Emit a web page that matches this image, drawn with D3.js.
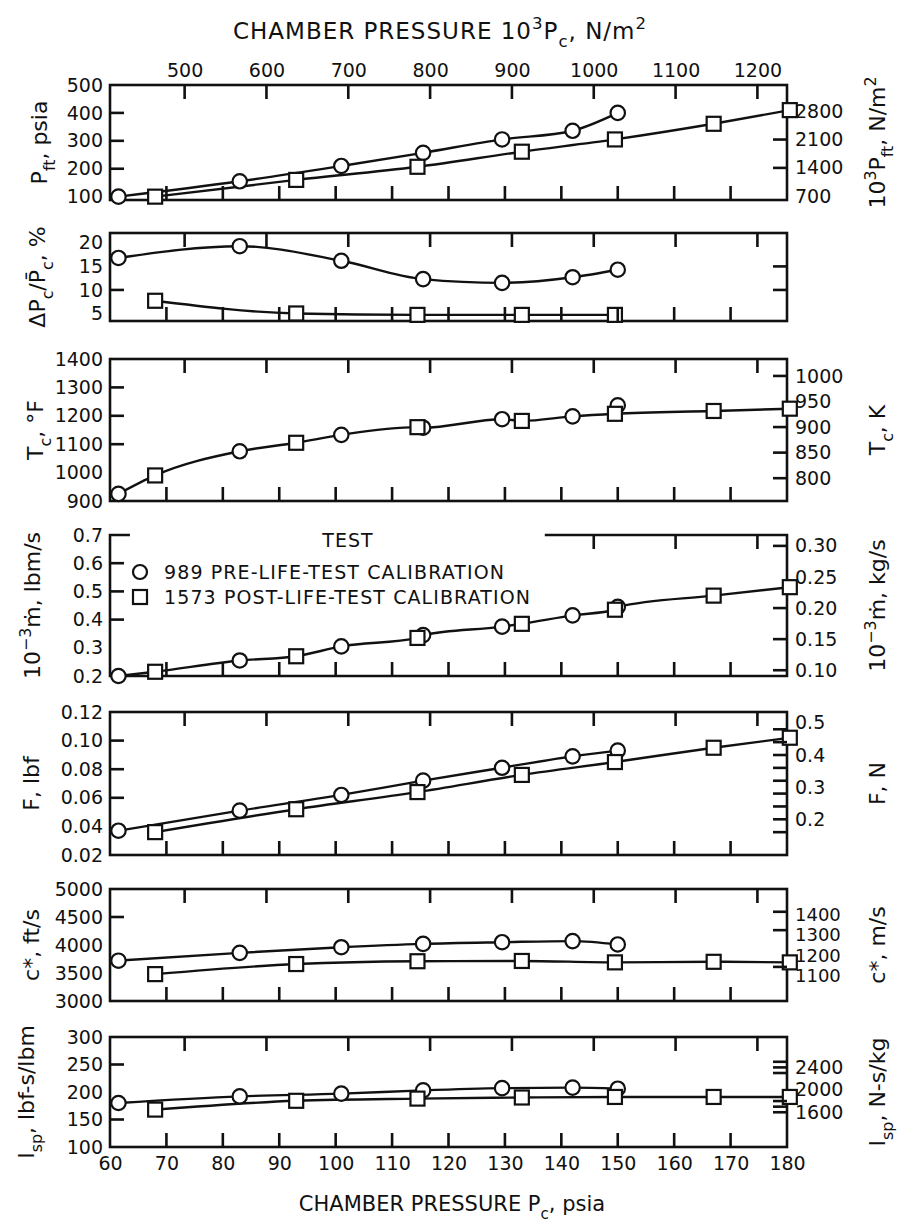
<!DOCTYPE html>
<html>
<head>
<meta charset="utf-8">
<script src="https://cdn.jsdelivr.net/npm/d3@7"></script>
<style>
  html, body { margin: 0; padding: 0; background: #fff; }
  svg { display: block; }
  text { font-family: "DejaVu Sans", sans-serif; fill: #111; }
</style>
</head>
<body>
<svg id="chart" width="902" height="1227"></svg>
<script>
// ---------------- DATA ----------------
const circlePc = [61.5, 83, 101, 115.5, 129.5, 142, 150];     // test 989 pre-life-test
const squarePc = [68, 93, 114.5, 133, 149.5, 167, 180.5];     // test 1573 post-life-test

const pftCircle = [100, 155, 210, 257, 305, 336, 400];
const pftSquare = [100, 160, 207, 261, 305, 361, 410];
const dpCircle = [16.8, 19.3, 16.2, 12.3, 11.5, 12.7, 14.3];
const dpSquarePc = [68, 93, 114.5, 133, 149.5];
const dpSquare = [7.7, 5.0, 4.7, 4.7, 4.7];
const tcCircle = [925, 1075, 1133, 1158, 1188, 1198, 1237];
const tcSquare = [990, 1105, 1160, 1182, 1207, 1217, 1225];
const mdCircle = [0.20, 0.255, 0.305, 0.345, 0.375, 0.415, 0.445];
const mdSquare = [0.215, 0.27, 0.335, 0.385, 0.435, 0.485, 0.515];
const fCircle = [0.037, 0.051, 0.062, 0.072, 0.081, 0.089, 0.093];
const fSquare = [0.036, 0.052, 0.064, 0.076, 0.085, 0.095, 0.102];
const cCircle = [3720, 3860, 3960, 4020, 4050, 4070, 4010];
const cSquare = [3480, 3660, 3710, 3715, 3690, 3700, 3690];
const ispCircle = [180, 192, 197, 203, 207, 208, 206];
const ispSquare = [168, 184, 188, 190, 191, 191, 191];

const bottomTicks = [60, 70, 80, 90, 100, 110, 120, 130, 140, 150, 160, 170, 180];
const topTicks = [500, 600, 700, 800, 900, 1000, 1100, 1200];
const pftTicks = [100, 200, 300, 400, 500];
const pftRightTicks = [700, 1400, 2100, 2800];
const dpTicks = [5, 10, 15, 20];
const tcTicks = [900, 1000, 1100, 1200, 1300, 1400];
const tcRightTicks = [800, 850, 900, 950, 1000];
const mdTicks = [0.2, 0.3, 0.4, 0.5, 0.6, 0.7];
const mdRightTicks = [0.10, 0.15, 0.20, 0.25, 0.30];
const fTicks = [0.02, 0.04, 0.06, 0.08, 0.10, 0.12];
const fRightTicks = [0.2, 0.3, 0.4, 0.5];
const cTicks = [3000, 3500, 4000, 4500, 5000];
const cRightTicks = [1100, 1200, 1300, 1400];
const ispTicks = [100, 150, 200, 250, 300];
const ispRightTicks = [1600, 2000, 2400];

const legendTitle = "TEST";
const legendItems = ["989 PRE-LIFE-TEST CALIBRATION", "1573 POST-LIFE-TEST CALIBRATION"];

// ---------------- LAYOUT ----------------
const svg = d3.select("#chart");
const FS = 19, TFS = 22;
const xL = 110, xR = 787;
const x = d3.scaleLinear().domain([60, 180]).range([xL, xR]);
const PSI_KPA = 6.89476;
const TOP_SHIFT = 4;   // drafting offset of the upper (N/m^2) scale
const xTop = d3.scaleLinear().domain([60 * PSI_KPA, 180 * PSI_KPA]).range([xL + TOP_SHIFT, xR + TOP_SHIFT]);
const TICK = 14, TW = 2.6;
const INK = "#111";

function rich(sel, parts, size) {
  const t = sel.append("text").attr("font-size", size);
  let cur = 0;
  parts.forEach(p => {
    const shift = p.sub ? size * 0.36 : p.sup ? -size * 0.42 : 0;
    const ts = t.append("tspan").text(p.t).attr("dy", shift - cur);
    if (p.sub || p.sup) ts.attr("font-size", size * 0.72);
    cur = shift;
  });
  return t;
}

const tickRects = [];
function vMarks(scale, vals, y0, dir) {
  vals.forEach(d => tickRects.push({ x: scale(d) - TW / 2, y: dir > 0 ? y0 : y0 - TICK, w: TW, h: TICK }));
}
function hMarks(scale, vals, x0, dir) {
  vals.forEach(d => tickRects.push({ x: dir > 0 ? x0 : x0 - TICK, y: scale(d) - TW / 2, w: TICK, h: TW }));
}
function styleLabels(a, size) {
  a.select(".domain").remove();
  a.selectAll(".tick line").remove();
  a.selectAll("text").attr("font-size", size).attr("font-family", "DejaVu Sans").attr("fill", INK);
}

const panels = [
  { top: 85, bottom: 200, domain: [88, 500], ticks: pftTicks, marks: [200, 300, 400], fmt: d3.format("d"),
    conv: v => v * PSI_KPA, rTicks: pftRightTicks, rMarks: [1400, 2100], rFmt: d3.format("d"),
    lines: [[circlePc, pftCircle], [squarePc, pftSquare]],
    circles: [circlePc, pftCircle], squares: [squarePc, pftSquare], lx: 47,
    lTitle: [{t:"P"},{t:"ft",sub:true},{t:", psia"}],
    rTitle: [{t:"10"},{t:"3",sup:true},{t:"P"},{t:"ft",sub:true},{t:", N/m"},{t:"2",sup:true}] },
  { top: 233, bottom: 321, domain: [3.4, 22.1], ticks: dpTicks, marks: [10], fmt: d3.format("d"),
    conv: null, rTicks: [], rMarks: [10, 15],
    lines: [[circlePc, dpCircle], [dpSquarePc, dpSquare]],
    circles: [circlePc, dpCircle], squares: [dpSquarePc, dpSquare], lx: 45,
    lTitle: [{t:"ΔP"},{t:"c",sub:true},{t:"/P\u0304"},{t:"c",sub:true},{t:", %"}], rTitle: null },
  { top: 359, bottom: 501, domain: [900, 1400], ticks: tcTicks, marks: [1100, 1200, 1300], fmt: d3.format("d"),
    conv: v => (v + 459.67) / 1.8, rTicks: tcRightTicks, rMarks: [800, 850, 900, 1000], rFmt: d3.format("d"),
    merged: { pcs: [circlePc, squarePc], vals: [tcCircle, tcSquare], skip: [[0, 6]] },
    circles: [circlePc, tcCircle], squares: [squarePc, tcSquare], lx: 43,
    lTitle: [{t:"T"},{t:"c",sub:true},{t:", °F"}], rTitle: [{t:"T"},{t:"c",sub:true},{t:", K"}] },
  { top: 535, bottom: 676, domain: [0.2, 0.7], ticks: mdTicks, marks: [0.4, 0.5, 0.6], fmt: d3.format(".1f"),
    conv: v => v * 0.453592, rTicks: mdRightTicks, rMarks: [0.10, 0.15, 0.20, 0.30], rFmt: d3.format(".2f"),
    merged: { pcs: [circlePc, squarePc], vals: [mdCircle, mdSquare], skip: [] },
    circles: [circlePc, mdCircle], squares: [squarePc, mdSquare], brokenTop: [63.3, 137.3], lx: 40,
    lTitle: [{t:"10"},{t:"−3",sup:true},{t:"ṁ, lbm/s"}], rTitle: [{t:"10"},{t:"−3",sup:true},{t:"ṁ, kg/s"}] },
  { top: 712, bottom: 855, domain: [0.02, 0.12], ticks: fTicks, marks: [0.06, 0.08, 0.10], fmt: d3.format(".2f"),
    conv: v => v * 4.44822, rTicks: fRightTicks, rMarks: [0.16, 0.2, 0.24, 0.28, 0.32, 0.36, 0.40, 0.44, 0.48], rFmt: d3.format(".1f"),
    lines: [[circlePc, fCircle], [squarePc, fSquare]],
    circles: [circlePc, fCircle], squares: [squarePc, fSquare], lx: 39,
    lTitle: [{t:"F, lbf"}], rTitle: [{t:"F, N"}] },
  { top: 889, bottom: 1001, domain: [3000, 5000], ticks: cTicks, marks: [4500], fmt: d3.format("d"),
    conv: v => v * 0.3048, rTicks: cRightTicks, rMarks: [1100, 1300, 1400], rFmt: d3.format("d"), rSpread: 2,
    lines: [[circlePc, cCircle], [squarePc, cSquare]],
    circles: [circlePc, cCircle], squares: [squarePc, cSquare], lx: 39,
    lTitle: [{t:"c*, ft/s"}], rTitle: [{t:"c*, m/s"}] },
  { top: 1037, bottom: 1147, domain: [100, 300], ticks: ispTicks, marks: [150, 250], fmt: d3.format("d"),
    conv: v => v * 9.80665, rTicks: ispRightTicks, rMarks: [1600, 1700, 1800, 2300, 2400, 2500], rFmt: d3.format("d"),
    lines: [[circlePc, ispCircle], [squarePc, ispSquare]],
    circles: [circlePc, ispCircle], squares: [squarePc, ispSquare], lx: 34,
    lTitle: [{t:"I"},{t:"sp",sub:true},{t:", lbf-s/lbm"}], rTitle: [{t:"I"},{t:"sp",sub:true},{t:", N-s/kg"}] }
];

const line = d3.line().curve(d3.curveMonotoneX);

panels.forEach((p, i) => {
  const g = svg.append("g");
  const y = d3.scaleLinear().domain(p.domain).range([p.bottom, p.top]);

  vMarks(x, bottomTicks.slice(1, -1), p.bottom, -1);
  const tt = p.brokenTop ? topTicks.filter(v => xTop(v) > x(p.brokenTop[1])) : topTicks;
  vMarks(xTop, tt, p.top, 1);

  g.append("g").attr("transform", `translate(${xL},0)`)
    .call(d3.axisLeft(y).tickValues(p.ticks).tickSize(0).tickPadding(7).tickFormat(p.fmt))
    .call(a => styleLabels(a, FS));
  hMarks(y, p.marks, xL, 1);

  if (p.conv) {
    const yr = d3.scaleLinear().domain(p.domain.map(p.conv)).range([p.bottom, p.top]);
    const ax = g.append("g").attr("transform", `translate(${xR},0)`)
      .call(d3.axisRight(yr).tickValues(p.rTicks).tickSize(0).tickPadding(8).tickFormat(p.rFmt))
      .call(a => styleLabels(a, FS));
    if (p.rSpread) {
      const top = d3.max(p.rTicks);
      ax.selectAll(".tick text").attr("dy", d => `${0.32 + (top - d) / 100 * p.rSpread / 18 + 3 / 18}em`)
        .attr("font-size", 18);
    }
    hMarks(yr, p.rMarks, xR, -1);
  } else {
    hMarks(y, p.rMarks, xR, -1);
  }

  const fr = g.append("g").attr("fill", "none").attr("stroke", INK).attr("stroke-width", 2.6).attr("stroke-linecap", "square");
  if (p.brokenTop) {
    fr.append("path").attr("d", `M${x(p.brokenTop[0])},${p.top}H${xL}V${p.bottom}H${xR}V${p.top}H${x(p.brokenTop[1])}`);
  } else {
    fr.append("rect").attr("x", xL).attr("y", p.top).attr("width", xR - xL).attr("height", p.bottom - p.top);
  }

  const lg = g.append("g").attr("fill", "none").attr("stroke", INK).attr("stroke-width", 2.4);
  if (p.lines) {
    p.lines.forEach(([pc, v]) => {
      lg.append("path").attr("d", line(pc.map((d, k) => [x(d), y(v[k])])));
    });
  }
  if (p.merged) {
    const pts = [];
    p.merged.pcs.forEach((pc, s) => pc.forEach((d, k) => {
      if (!p.merged.skip.some(q => q[0] === s && q[1] === k)) pts.push([d, p.merged.vals[s][k]]);
    }));
    pts.sort((a, b) => a[0] - b[0]);
    lg.append("path").attr("d", line(pts.map(d => [x(d[0]), y(d[1])])));
  }

  const mg = g.append("g").attr("fill", "#fff").attr("stroke", INK).attr("stroke-width", 2.2);
  const [cp, cv] = p.circles;
  mg.selectAll("circle").data(cp.map((d, k) => [d, cv[k]])).join("circle")
    .attr("cx", d => x(d[0])).attr("cy", d => y(d[1])).attr("r", 7.2);
  const [sp, sv] = p.squares;
  mg.selectAll("rect").data(sp.map((d, k) => [d, sv[k]])).join("rect")
    .attr("x", d => x(d[0]) - 7).attr("y", d => y(d[1]) - 7).attr("width", 14).attr("height", 14);

  const cy = (p.top + p.bottom) / 2;
  rich(g, p.lTitle, TFS).attr("text-anchor", "middle")
    .attr("transform", `translate(${p.lx},${cy}) rotate(-90)`);
  if (p.rTitle) {
    rich(g, p.rTitle, TFS).attr("text-anchor", "middle")
      .attr("transform", `translate(885,${cy}) rotate(-90)`);
  }

  if (i === 3) {
    g.append("text").attr("x", 348).attr("y", 547).attr("text-anchor", "middle")
      .attr("font-size", FS).attr("letter-spacing", 1).text(legendTitle);
    const ly = [572, 597];
    legendItems.forEach((t, k) => {
      if (k === 0) g.append("circle").attr("cx", 140).attr("cy", ly[k]).attr("r", 7)
        .attr("fill", "#fff").attr("stroke", INK).attr("stroke-width", 2.2);
      else g.append("rect").attr("x", 133).attr("y", ly[k] - 7).attr("width", 14).attr("height", 14)
        .attr("fill", "#fff").attr("stroke", INK).attr("stroke-width", 2.2);
      g.append("text").attr("x", 164).attr("y", ly[k] + 7).attr("font-size", FS)
        .attr("letter-spacing", 1.1).text(t);
    });
  }
});

svg.append("g").attr("class", "tickmarks").selectAll("rect").data(tickRects).join("rect")
  .attr("x", d => d.x).attr("y", d => d.y).attr("width", d => d.w).attr("height", d => d.h)
  .attr("fill", INK);

svg.append("g").attr("transform", `translate(0,1147)`)
  .call(d3.axisBottom(x).tickValues(bottomTicks).tickSize(0).tickPadding(10).tickFormat(d3.format("d")))
  .call(a => styleLabels(a, FS));
svg.append("g").attr("transform", `translate(0,85)`)
  .call(d3.axisTop(xTop).tickValues(topTicks).tickSize(0).tickPadding(8).tickFormat(d3.format("d")))
  .call(a => styleLabels(a, FS));

rich(svg, [{t:"CHAMBER PRESSURE 10"},{t:"3",sup:true},{t:"P"},{t:"c",sub:true},{t:", N/m"},{t:"2",sup:true}], 23)
  .attr("x", 440).attr("y", 39).attr("text-anchor", "middle").attr("letter-spacing", 1);
rich(svg, [{t:"CHAMBER PRESSURE P"},{t:"c",sub:true},{t:", psia"}], 21)
  .attr("x", 452).attr("y", 1211).attr("text-anchor", "middle");
</script>
</body>
</html>
